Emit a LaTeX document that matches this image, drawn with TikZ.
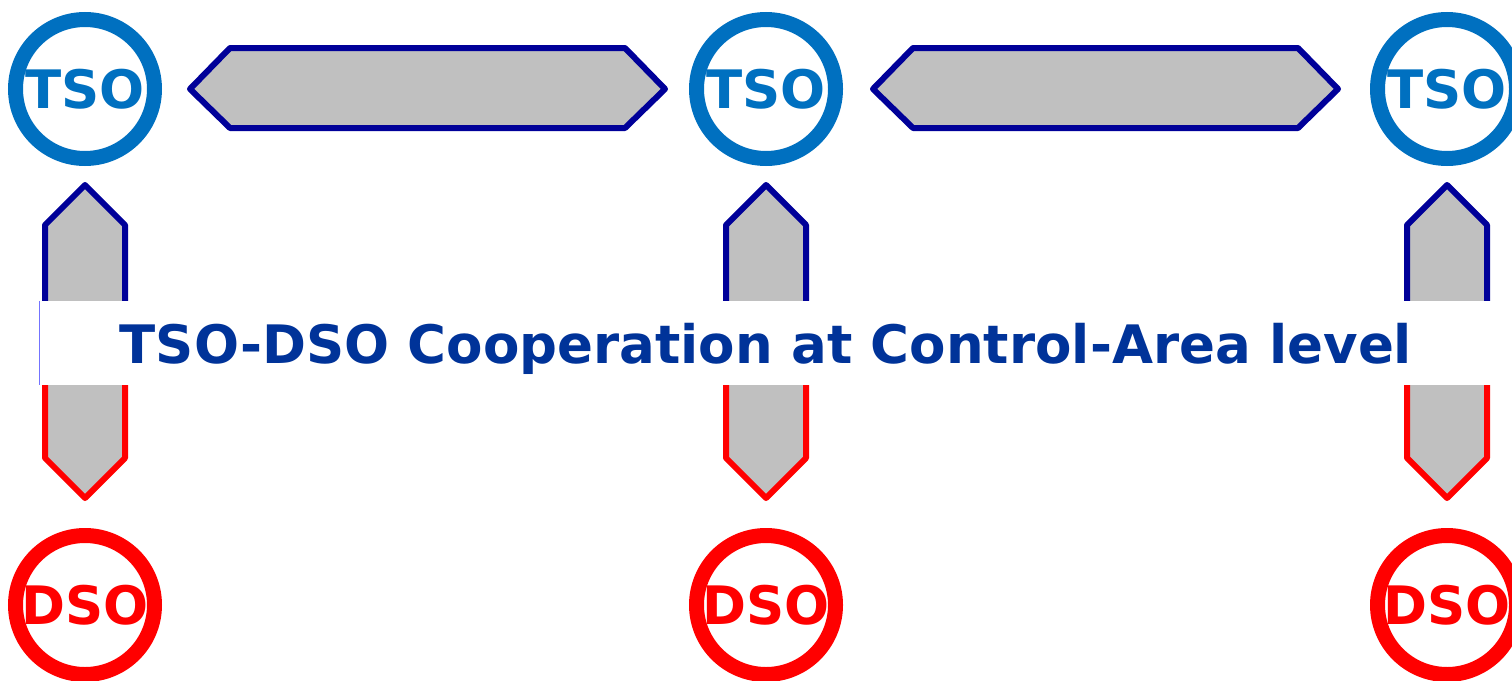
\documentclass[tikz,border=0pt]{standalone}
\usepackage{fontspec}
\setmainfont{DejaVu Sans}
\usetikzlibrary{calc}
\definecolor{tsoblue}{RGB}{0,112,192}
\definecolor{dsored}{RGB}{255,0,0}
\definecolor{navyline}{RGB}{0,0,153}
\definecolor{arrowgray}{RGB}{192,192,192}
\definecolor{labelblue}{RGB}{0,51,153}
\begin{document}
\begin{tikzpicture}[x=1pt,y=-1pt,
 opnode/.style={circle, line width=15pt, minimum size=139pt, inner sep=0pt, font=\fontsize{53}{53}\selectfont\bfseries},
 tso/.style={opnode, draw=tsoblue, text=tsoblue},
 dso/.style={opnode, draw=dsored, text=dsored},
 tsoline/.style={draw=navyline, line width=6pt, line join=round},
 dsoline/.style={draw=dsored, line width=6pt, line join=round},
 band/.style={fill=white, draw=none, minimum width=1472pt, minimum height=84pt, inner sep=0pt},
 title/.style={text=labelblue, font=\fontsize{53}{53}\selectfont\bfseries, inner sep=0pt, anchor=base},
]
\useasboundingbox (0,0) rectangle (1512,680);

\node[tso] (t1) at (85,89) {TSO};
\node[tso] (t2) at (766,89) {TSO};
\node[tso] (t3) at (1447,89) {TSO};
\node[dso] (d1) at (85,605) {DSO};
\node[dso] (d2) at (766,605) {DSO};
\node[dso] (d3) at (1447,605) {DSO};

% horizontal block arrows
\draw[tsoline, fill=arrowgray] ($(t1.east)+(28,0)$) -- ++(40,-41) -- ($(t2.west)+(-64,-41)$) -- ($(t2.west)+(-24,0)$) -- ($(t2.west)+(-64,39)$) -- ($(t1.east)+(68,39)$) -- cycle;
\draw[tsoline, fill=arrowgray] ($(t2.east)+(30,0)$) -- ++(40,-41) -- ($(t3.west)+(-72,-41)$) -- ($(t3.west)+(-32,0)$) -- ($(t3.west)+(-72,39)$) -- ($(t2.east)+(70,39)$) -- cycle;

% vertical block arrows
\foreach \t/\d in {t1/d1,t2/d2,t3/d3}{
  \fill[arrowgray] ($(\t.south)+(0,19)$) -- ($(\t.south)+(40,59)$) -- ($(\d.north)+(40,-70)$) -- ($(\d.north)+(0,-30)$) -- ($(\d.north)+(-40,-70)$) -- ($(\t.south)+(-40,59)$) -- cycle;
  \draw[tsoline] ($(\t.south)+(-40,177)$) -- ($(\t.south)+(-40,59)$) -- ($(\t.south)+(0,19)$) -- ($(\t.south)+(40,59)$) -- ($(\t.south)+(40,177)$);
  \draw[dsoline] ($(\t.south)+(-40,177)$) -- ($(\d.north)+(-40,-70)$) -- ($(\d.north)+(0,-30)$) -- ($(\d.north)+(40,-70)$) -- ($(\t.south)+(40,177)$);
}

% label band
\node[band] (bandbox) at (776,343) {};
\draw[blue!55, line width=1pt] (bandbox.north west) -- (bandbox.south west);
\node[title] (label) at (766,363) {TSO-DSO Cooperation at Control-Area level};
\end{tikzpicture}
\end{document}
